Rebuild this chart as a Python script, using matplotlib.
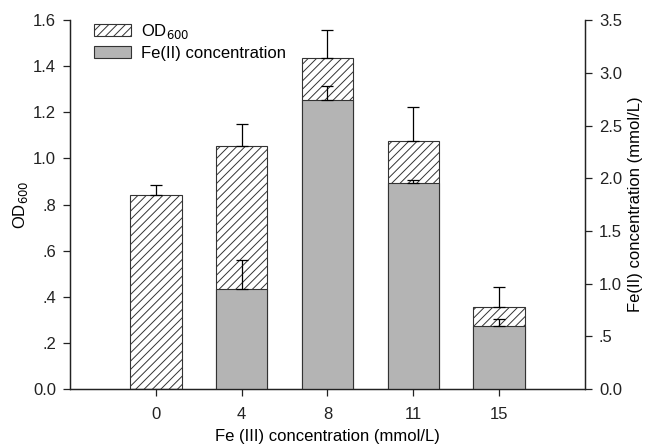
import matplotlib
matplotlib.use("Agg")
import matplotlib.pyplot as plt
import numpy as np

plt.rcParams['font.family'] = ['Liberation Sans', 'DejaVu Sans']
plt.rcParams['hatch.linewidth'] = 0.7

categories = ["0", "4", "8", "11", "15"]
od600 = [0.841, 1.054, 1.437, 1.074, 0.354]
od600_err = [0.044, 0.094, 0.120, 0.147, 0.090]
fe2 = [0.0, 0.949, 2.742, 1.951, 0.598]
fe2_err = [0.0, 0.272, 0.133, 0.030, 0.062]

left_ticks = [0.0, 0.2, 0.4, 0.6, 0.8, 1.0, 1.2, 1.4, 1.6]
left_labels = ["0.0", ".2", ".4", ".6", ".8", "1.0", "1.2", "1.4", "1.6"]
right_ticks = [0.0, 0.5, 1.0, 1.5, 2.0, 2.5, 3.0, 3.5]
right_labels = ["0.0", ".5", "1.0", "1.5", "2.0", "2.5", "3.0", "3.5"]

edge = "#333333"
gray = "#b4b4b4"
fs = 12

fig = plt.figure(figsize=(6.45, 4.47), dpi=100)
ax = fig.add_axes([0.1085, 0.1298, 0.7985, 0.8252])
x = np.arange(len(categories))
w = 0.6

b1 = ax.bar(x, od600, width=w, color="white", edgecolor=edge, hatch="////", linewidth=0.8,
            label="OD$_{600}$", zorder=2)
ax.errorbar(x, od600, yerr=[np.zeros(len(x)), od600_err], fmt="none", ecolor="black",
            elinewidth=0.9, capsize=4, capthick=0.9, zorder=3)
ax.set_ylim(0, 1.6)
ax.set_xlim(-1, 5)
ax.set_yticks(left_ticks)
ax.set_yticklabels(left_labels)
ax.set_xticks(x)
ax.set_xticklabels(categories)
ax.set_ylabel("OD$_{600}$", fontsize=fs, labelpad=2)
ax.set_xlabel("Fe (III) concentration (mmol/L)", fontsize=fs, labelpad=5)

ax2 = ax.twinx()
b2 = ax2.bar(x, fe2, width=w, color=gray, edgecolor=edge, linewidth=0.8,
             label="Fe(II) concentration", zorder=2)
mask = np.array(fe2) > 0
ax2.errorbar(x[mask], np.array(fe2)[mask],
             yerr=[np.zeros(mask.sum()), np.array(fe2_err)[mask]], fmt="none",
             ecolor="black", elinewidth=0.9, capsize=4, capthick=0.9, zorder=3)
ax2.set_ylim(0, 3.5)
ax2.set_yticks(right_ticks)
ax2.set_yticklabels(right_labels)
ax2.set_ylabel("Fe(II) concentration (mmol/L)", fontsize=fs, labelpad=4)

for a in (ax, ax2):
    a.spines['top'].set_visible(False)
    for s in a.spines.values():
        s.set_linewidth(0.9)
        s.set_color("#222222")
    a.tick_params(direction="out", length=5, width=0.9, labelsize=fs, colors="#222222")
    a.tick_params(axis='x', pad=8)
ax.tick_params(axis='y', pad=5)
ax2.tick_params(axis='y', pad=5)

leg = ax.legend([b1, b2], ["OD$_{600}$", "Fe(II) concentration"], loc="upper left",
                bbox_to_anchor=(0.018, 1.035), frameon=False, fontsize=fs,
                handlelength=2.2, handleheight=0.75, handletextpad=0.6, labelspacing=0.3)

fig.savefig("out.png", dpi=100)
